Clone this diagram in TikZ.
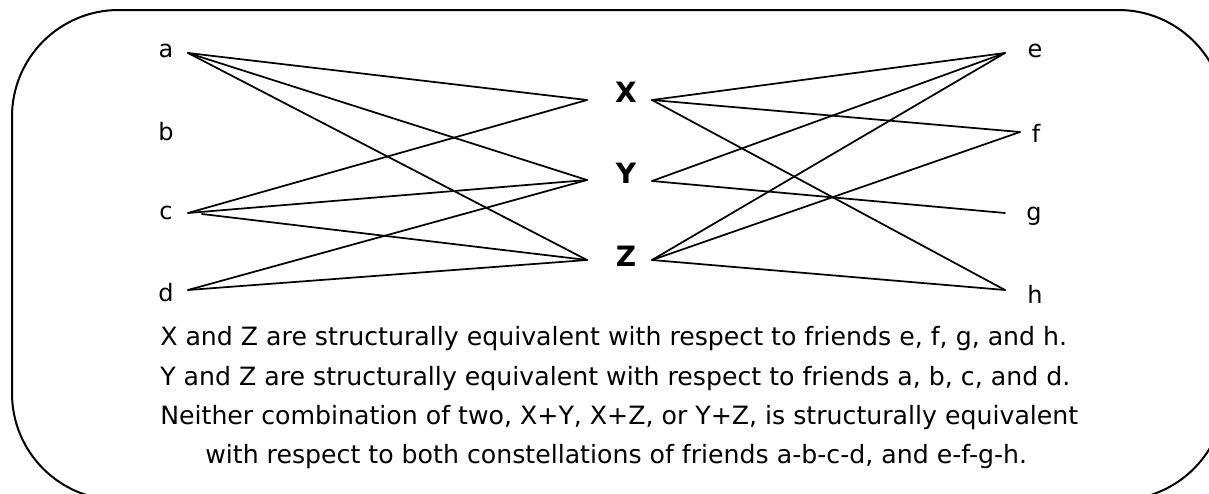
\documentclass[tikz,border=0pt]{standalone}
\usepackage{fontspec}
\setmainfont{DejaVu Sans}
\begin{document}
\begin{tikzpicture}[x=0.75pt,y=-0.75pt,
  lbl/.style={inner sep=0pt,font=\fontsize{18}{21}\selectfont},
  hub/.style={inner sep=0pt,font=\fontsize{21}{25}\selectfont\bfseries},
  txt/.style={inner sep=0pt,anchor=base west,font=\fontsize{18.9}{22}\selectfont},
  edge/.style={line width=1.3pt,line cap=round,line join=round}]
\useasboundingbox (0,0) rectangle (1209,493);
\clip (0,0) rectangle (1209,493);
\draw[line width=1.5pt,rounded corners=80] (12,10) rectangle (1225,500);
% labels
\node[lbl] (a) at (166,51) {a};
\node[lbl] (b) at (166,132) {b};
\node[lbl] (c) at (166,213) {c};
\node[lbl] (d) at (166,293) {d};
\node[lbl] (e) at (1035,51) {e};
\node[lbl] (f) at (1036,133) {f};
\node[lbl] (g) at (1034,216) {g};
\node[lbl] (h) at (1035,294) {h};
\node[hub] (X) at (626,92) {X};
\node[hub] (Y) at (626,173) {Y};
\node[hub] (Z) at (626,256) {Z};
% endpoints
\coordinate (aR) at (188,53);
\coordinate (cR) at (188,213);
\coordinate (cR2) at (202,214);
\coordinate (dR) at (188,290);
\coordinate (XL) at (587,100);
\coordinate (YL) at (587,180);
\coordinate (ZL) at (587,260);
\coordinate (XR) at (652,100);
\coordinate (YR) at (652,181);
\coordinate (ZR) at (652,260);
\coordinate (eL) at (1005,53);
\coordinate (fL) at (1020,132);
\coordinate (gL) at (1005,213);
\coordinate (hL) at (1005,290);
% left edges
\draw[edge] (aR) -- (XL);
\draw[edge] (aR) -- (YL);
\draw[edge] (aR) -- (ZL);
\draw[edge] (cR) -- (XL);
\draw[edge] (cR) -- (YL);
\draw[edge] (cR2) -- (ZL);
\draw[edge] (dR) -- (YL);
\draw[edge] (dR) -- (ZL);
% right edges
\draw[edge] (XR) -- (eL);
\draw[edge] (XR) -- (fL);
\draw[edge] (XR) -- (hL);
\draw[edge] (YR) -- (eL);
\draw[edge] (YR) -- (gL);
\draw[edge] (ZR) -- (eL);
\draw[edge] (ZR) -- (fL);
\draw[edge] (ZR) -- (hL);
% text
\node[txt] (t1) at (160,345) {X and Z are structurally equivalent with respect to friends e, f, g, and h.};
\node[txt] (t2) at (160,385) {Y and Z are structurally equivalent with respect to friends a, b, c, and d.};
\node[txt] (t3) at (160,424) {Neither combination of two, X+Y, X+Z, or Y+Z, is structurally equivalent};
\node[txt] (t4) at (205,463) {with respect to both constellations of friends a-b-c-d, and e-f-g-h.};
\end{tikzpicture}
\end{document}
